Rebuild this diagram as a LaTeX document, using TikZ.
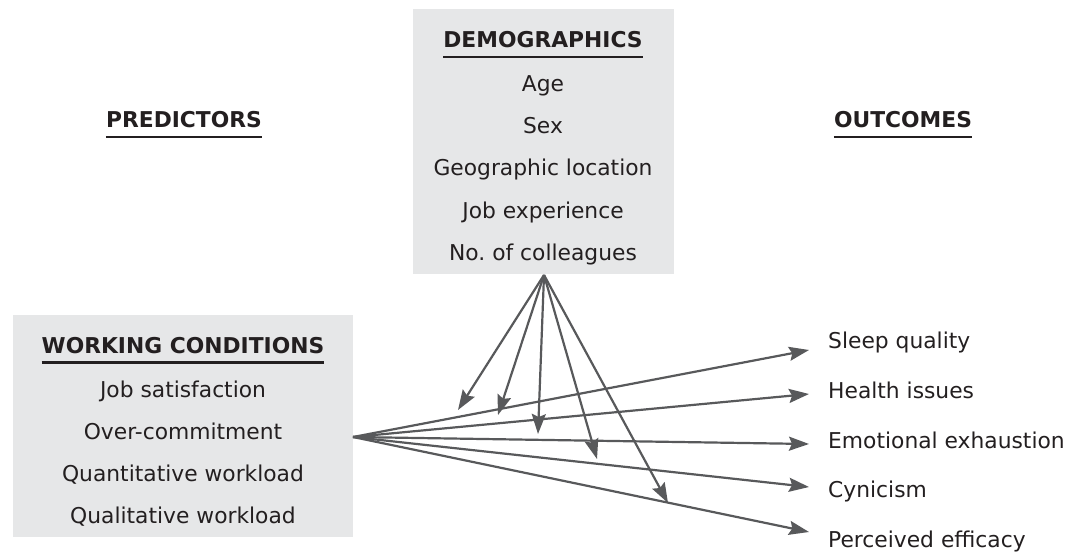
\documentclass[tikz,border=0pt]{standalone}
\usepackage{fontspec}
\setmainfont{DejaVu Sans}
\usetikzlibrary{arrows.meta}
\definecolor{boxgray}{HTML}{E6E7E8}
\definecolor{arrowgray}{HTML}{58595B}
\definecolor{txt}{HTML}{231F20}
\frenchspacing
\begin{document}
\begin{tikzpicture}[x=1pt,y=-1pt,
  lbl/.style={font=\fontsize{21.8}{26}\selectfont, text=txt, inner sep=0pt, anchor=base},
  ttl/.style={lbl, font=\fontsize{21.8}{26}\selectfont\bfseries},
  outl/.style={lbl, anchor=base west},
  ul/.style={line width=2.5pt, draw=txt},
  panel/.style={fill=boxgray, draw=none, inner sep=0pt, anchor=north west},
  conn/.style={draw=arrowgray, line width=2.2pt, -{Stealth[length=20pt,width=14pt,inset=3pt]}}
]
\useasboundingbox (0,0) rectangle (1079,554);

% headings
\node[ttl] (pred) at (184,127) {PREDICTORS};
\node[ttl] (outc) at (903,127) {OUTCOMES};
\draw[ul] ([yshift=-10pt]pred.base west) -- ([yshift=-10pt]pred.base east);
\draw[ul] ([yshift=-10pt]outc.base west) -- ([yshift=-10pt]outc.base east);

% demographics panel
\node[panel, minimum width=261pt, minimum height=265pt] (demo) at (413,9) {};
\node[ttl] (dtitle) at (543,47) {DEMOGRAPHICS};
\draw[ul] ([yshift=-10pt]dtitle.base west) -- ([yshift=-10pt]dtitle.base east);
\node[lbl] (d1) at (543,91) {Age};
\node[lbl] (d2) at (543,133) {Sex};
\node[lbl] (d3) at (543,175) {Geographic location};
\node[lbl] (d4) at (543,218) {Job experience};
\node[lbl] (d5) at (543,260) {No.\ of colleagues};

% working conditions panel
\node[panel, minimum width=340pt, minimum height=222pt] (work) at (13,315) {};
\node[ttl] (wtitle) at (183,353) {WORKING CONDITIONS};
\draw[ul] ([yshift=-9.5pt]wtitle.base west) -- ([yshift=-9.5pt]wtitle.base east);
\node[lbl] (w1) at (183,397) {Job satisfaction};
\node[lbl] (w2) at (183,439) {Over-commitment};
\node[lbl] (w3) at (183,481) {Quantitative workload};
\node[lbl] (w4) at (183,523) {Qualitative workload};

% outcomes
\node[outl] (o1) at (828,348) {Sleep quality};
\node[outl] (o2) at (828,398) {Health issues};
\node[outl] (o3) at (828,448) {Emotional exhaustion};
\node[outl] (o4) at (828,497) {Cynicism};
\node[outl] (o5) at (828,547) {Perceived efficacy};

% connector end points
\coordinate (ws) at (353,437);
\coordinate (ds) at (544,275);
\coordinate (wt1) at (809,350);
\coordinate (wt2) at (809,394);
\coordinate (wt3) at (809,444);
\coordinate (wt4) at (809,487);
\coordinate (wt5) at (809,532);
\coordinate (dt1) at (458,410);
\coordinate (dt2) at (498,415);
\coordinate (dt3) at (538,434);
\coordinate (dt4) at (597,459);
\coordinate (dt5) at (668,503);

\foreach \i in {1,...,5} {
  \draw[conn] (ws) -- (wt\i);
}
\foreach \i in {1,...,5} {
  \draw[conn] (ds) -- (dt\i);
}
\end{tikzpicture}
\end{document}
